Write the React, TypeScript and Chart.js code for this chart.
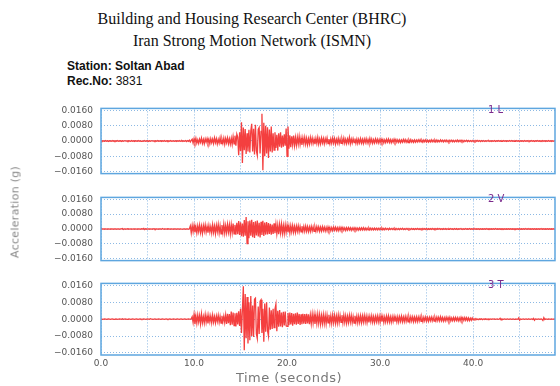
import React, { useEffect, useRef } from "react";
import { Chart, registerables } from "chart.js";

Chart.register(...registerables);

// ---- Data (acceleration in milli-g, sampled every 0.1 s from t = 0 s) ----
const START_TIME = 0;
const SAMPLE_INTERVAL = 0.1;
const TIME_MAX = 48.8;

const ACC_L = [
  0.1, -0.2, 0.1, 0.0, -0.1, 0.2, -0.1, 0.1, -0.2, 0.1, 0.0, -0.1, 0.2, -0.1, 0.1, -0.2, 0.1, -0.1, 0.2, -0.1,
  0.0, 0.1, -0.2, 0.1, -0.1, 0.2, 0.0, -0.1, 0.1, -0.2, 0.1, 0.0, -0.1, 0.2, -0.1, 0.1, -0.2, 0.1, 0.0, -0.1,
  0.2, -0.1, 0.1, -0.2, 0.0, 0.1, -0.1, 0.2, -0.1, 0.0, 0.1, -0.2, 0.1, -0.1, 0.2, 0.0, -0.1, 0.1, -0.2, 0.1,
  -0.1, 0.2, -0.1, 0.0, 0.1, -0.2, 0.1, -0.1, 0.2, -0.1, 0.0, 0.1, -0.2, 0.1, -0.1, 0.2, -0.1, 0.0, 0.1, -0.1,
  0.1, -0.2, 0.1, -0.1, 0.2, -0.1, 0.0, 0.2, -0.2, 0.1, -0.1, 0.2, -0.3, 0.2, -0.2, 0.4, -0.5, 0.3, 0.9, -1.1,
  1.2, -0.8, 1.4, -1.1, 0.6, -1.3, 1.0, -0.7, 1.5, -1.2, 0.8, -1.4, 1.1, -0.6, 1.3, -1.0, 0.9, -1.5, 1.2, -0.9,
  1.0, -1.3, 1.6, -0.9, 1.2, -1.6, 0.8, -1.1, 1.7, -1.4, 1.0, -1.2, 1.5, -1.7, 1.3, -0.9, 1.6, -1.4, 1.1, -1.6,
  1.4, -1.8, 2.2, -1.5, 2.8, -2.4, 3.6, 2.0, -7.4, 4.5, -5.2, 9.8, -11.5, 7.0, -4.8, 6.2, -6.8, 4.0, -5.5, 5.8,
  -6.0, 5.2, 9.0, -5.5, 6.4, -7.0, 8.5, -5.0, -7.5, 6.0, 7.0, -6.5, 5.0, 14.2, -15.2, 9.5, -8.0, 8.0, -6.5, 7.2,
  -8.8, 6.0, -5.5, 7.5, -6.0, 4.0, -4.8, 4.5, -3.6, 3.2, -5.0, 4.0, -3.0, 4.5, -3.5, 2.8, -3.0, 3.5, -2.5, 6.5,
  -8.0, 7.5, -4.0, 3.0, -3.2, 2.5, -2.0, 2.8, -2.4, 1.8, -2.2, 2.0, -1.6, 2.4, -1.8, 1.5, -2.0, 1.7, -1.4, 1.9,
  -1.6, 1.4, -1.9, 1.2, -1.5, 1.8, -1.1, 1.6, -1.3, 1.0, -1.7, 1.4, -1.2, 1.9, -1.5, 1.1, -1.4, 1.6, -1.0, 1.3,
  -1.5, 1.2, -0.9, 1.6, -1.3, 1.0, -1.4, 1.1, -1.2, 1.5, -1.0, 1.3, -1.6, 0.9, -1.1, 1.4, -1.3, 1.0, -1.2, 1.1,
  -1.0, 1.5, -1.2, 0.9, -1.3, 1.1, -0.9, 1.9, -1.4, 1.0, -1.1, 1.2, -0.8, 1.3, -1.2, 1.0, -1.3, 0.9, -1.0, 1.2,
  -1.1, 0.9, -1.3, 1.0, -0.8, 1.2, -1.0, 0.8, -1.1, 1.3, -0.9, 1.0, -1.2, 0.7, -1.0, 1.1, -0.8, 0.9, -1.0, 0.8,
  -0.9, 1.0, -0.7, 0.8, -1.0, 0.6, -0.8, 0.9, -0.6, 1.0, -0.8, 0.7, -0.9, 0.6, -0.7, 0.9, -0.6, 0.8, -0.7, 0.6,
  -0.7, 0.6, -0.8, 0.5, -0.6, 0.8, -0.5, 0.7, -0.6, 0.5, -0.8, 0.6, -0.5, 0.7, -0.6, 0.4, -0.7, 0.5, -0.6, 0.5,
  -0.5, 0.6, -0.4, 0.7, -0.5, 0.4, -0.6, 0.5, -0.4, 0.6, -0.5, 0.4, -0.6, 0.3, -0.5, 0.6, -0.4, 0.5, -0.4, 0.5,
  -0.4, 0.5, -0.5, 0.3, -0.4, 0.6, -0.3, 0.4, -0.5, 0.4, -0.3, 0.5, -0.4, 0.3, -0.5, 0.4, -0.3, 0.4, -0.4, 0.3,
  -0.4, 0.3, -0.3, 0.5, -0.4, 0.3, -0.3, 0.4, -0.3, 0.3, -0.4, 0.3, -0.2, 0.4, -0.3, 0.3, -0.3, 0.2, -0.3, 0.3,
  -0.3, 0.2, -0.3, 0.3, -0.2, 0.3, -0.2, 0.2, -0.3, 0.2, -0.2, 0.2, -0.2, 0.1, -0.2, 0.2, -0.1, 0.2, -0.2, 0.1,
  -0.2, 0.1, -0.1, 0.2, -0.2, 0.1, -0.1, 0.2, -0.1, 0.1, -0.2, 0.1, -0.1, 0.2, -0.1, 0.1, -0.2, 0.1, -0.1, 0.2,
  -0.1, 0.2, -0.1, 0.1, -0.2, 0.1, -0.1, 0.2, -0.1, 0.1, -0.2, 0.1, -0.1, 0.1, -0.2, 0.2, -0.1, 0.1, -0.1, 0.2,
  -0.2, 0.1, -0.1, 0.2, -0.1, 0.1, -0.2, 0.1, -0.1, 0.2, -0.1, 0.1, -0.2, 0.1, -0.1, 0.2, -0.1, 0.1, -0.2, 0.1,
  -0.1, 0.2, -0.1, 0.1, -0.2, 0.1, -0.1, 0.1, 0.0,
];

const ACC_V = [
  0.0, 0.1, -0.1, 0.0, 0.1, 0.0, -0.1, 0.1, 0.0, -0.1, 0.0, 0.1, 0.0, -0.1, 0.1, 0.0, 0.0, -0.1, 0.1, 0.0,
  -0.1, 0.0, 0.1, 0.3, -0.2, 0.0, 0.1, -0.1, 0.0, 0.1, 0.0, -0.1, 0.0, 0.1, -0.1, 0.0, 0.1, 0.0, -0.1, 0.0,
  0.1, 0.0, -0.1, 0.0, 0.1, 0.0, 0.3, -0.3, 0.1, 0.0, -0.1, 0.0, 0.1, 0.0, -0.1, 0.1, 0.0, 0.2, -0.2, 0.0,
  0.1, -0.1, 0.0, 0.1, 0.0, -0.1, 0.2, -0.1, 0.0, 0.1, -0.1, 0.0, 0.1, 0.0, -0.1, 0.1, 0.0, -0.1, 0.0, 0.1,
  0.0, -0.1, 0.1, 0.0, -0.1, 0.1, 0.0, 0.0, -0.1, 0.1, 0.0, -0.1, 0.1, 0.0, -0.1, 0.0, 1.6, -2.1, 1.9, -1.5,
  2.0, -1.8, 1.2, -2.2, 1.7, -1.4, 2.1, -1.9, 1.5, -2.3, 1.8, -1.2, 2.2, -1.7, 1.4, -2.0, 1.9, -1.6, 1.3, -2.1,
  2.3, -1.8, 1.6, -2.5, 2.0, -1.5, 2.4, -2.2, 1.7, -2.6, 2.1, -1.9, 2.6, -2.3, 1.8, -2.0, 2.5, -1.7, 2.2, -2.6,
  2.4, -2.0, 2.9, -2.6, 2.2, -3.0, 3.4, -2.8, 4.3, -3.2, 3.6, -3.9, 3.0, -4.2, 4.8, -3.6, 6.4, -7.8, 4.2, -5.0,
  4.5, -3.6, 5.0, -4.4, 3.8, -4.8, 4.2, -3.5, 4.6, -4.0, 3.4, -4.5, 3.9, -3.2, 4.4, -3.7, 3.5, -3.0, 3.8, -2.9,
  3.2, -2.6, 2.8, -3.0, 2.4, -2.7, 3.0, -2.2, 2.6, -2.5, 2.1, -2.8, 2.4, -2.0, 2.7, -2.3, 1.9, -2.4, 2.2, -1.8,
  2.0, -1.9, 1.6, -2.1, 1.8, -1.5, 1.9, -1.7, 1.4, -1.8, 1.6, -1.3, 1.7, -1.5, 1.3, -1.6, 1.5, -1.2, 1.4, -1.3,
  1.5, -1.2, 1.3, -1.4, 1.1, -1.3, 1.4, -1.0, 1.2, -1.3, 1.0, -1.2, 1.3, -0.9, 1.1, -1.2, 1.0, -1.1, 1.2, -0.9,
  1.0, -1.1, 0.9, -1.0, 1.1, -0.8, 0.9, -1.0, 0.8, -0.9, 1.0, -0.7, 0.9, -0.8, 0.7, -0.9, 0.8, -0.7, 0.9, -0.6,
  0.8, -0.7, 0.6, -0.8, 0.7, -0.6, 0.8, -0.5, 0.7, -0.7, 0.6, -0.6, 0.7, -0.5, 0.6, -0.7, 0.5, -0.6, 0.6, -0.5,
  0.6, -0.5, 0.7, -0.5, 0.5, -0.6, 0.4, -0.5, 0.6, -0.4, 0.5, -0.5, 0.4, -0.5, 0.5, -0.4, 0.4, -0.5, 0.4, -0.4,
  0.4, -0.3, 0.5, -0.4, 0.3, -0.4, 0.4, -0.3, 0.3, -0.4, 0.4, -0.3, 0.3, -0.3, 0.4, -0.3, 0.3, -0.4, 0.3, -0.3,
  0.3, -0.4, 0.3, -0.2, 0.4, -0.3, 0.2, -0.3, 0.3, -0.2, 0.3, -0.3, 0.2, -0.3, 0.3, -0.2, 0.2, -0.3, 0.2, -0.2,
  0.3, -0.2, 0.2, -0.3, 0.2, -0.2, 0.3, -0.2, 0.2, -0.2, 0.2, -0.3, 0.2, -0.2, 0.2, -0.2, 0.3, -0.2, 0.2, -0.2,
  0.2, -0.2, 0.3, -0.1, 0.2, -0.2, 0.1, -0.2, 0.2, -0.1, 0.2, -0.2, 0.1, -0.2, 0.2, -0.1, 0.2, -0.1, 0.1, -0.2,
  0.2, -0.1, 0.2, -0.2, 0.1, -0.1, 0.2, -0.1, 0.1, -0.2, 0.1, -0.1, 0.2, -0.1, 0.1, -0.1, 0.2, -0.1, 0.1, -0.1,
  0.1, -0.1, 0.2, -0.1, 0.1, -0.1, 0.1, -0.2, 0.1, -0.1, 0.1, -0.1, 0.1, -0.1, 0.2, -0.1, 0.1, -0.1, 0.1, -0.1,
  0.1, -0.1, 0.1, -0.1, 0.2, -0.1, 0.1, -0.1, 0.1, -0.1, 0.1, -0.1, 0.1, -0.2, 0.1, -0.1, 0.1, -0.1, 0.1, -0.1,
  0.1, -0.1, 0.1, -0.1, 0.1, -0.2, 0.1, -0.1, 0.1, -0.1, 0.1, -0.1, 0.1, -0.1, 0.1, -0.1, 0.2, -0.1, 0.1, -0.1,
  0.1, -0.1, 0.1, -0.1, 0.1, -0.1, 0.1, -0.1, 0.1, -0.1, 0.1, -0.1, 0.1, -0.1, 0.1, -0.1, 0.1, -0.1, 0.1, -0.1,
  0.1, -0.1, 0.1, -0.1, 0.1, -0.1, 0.1, -0.1, 0.0,
];

const ACC_T = [
  0.1, 0.0, -0.1, 0.0, 0.1, 0.0, -0.1, 0.0, 0.1, 0.0, -0.1, 0.0, 0.1, 0.0, -0.1, 0.0, 0.1, 0.0, -0.1, 0.0,
  0.1, 0.0, -0.1, 0.2, -0.1, 0.0, 0.1, 0.0, -0.1, 0.0, 0.1, 0.0, -0.1, 0.0, 0.1, 0.0, -0.1, 0.0, 0.1, 0.0,
  -0.1, 0.0, 0.1, 0.0, -0.1, 0.0, 0.1, 0.0, -0.1, 0.0, 0.1, 0.0, -0.1, 0.2, 0.0, 0.0, -0.1, 0.0, 0.1, 0.0,
  -0.1, 0.0, 0.1, 0.0, -0.1, 0.0, 0.1, 0.0, -0.1, 0.0, 0.1, 0.0, -0.1, 0.0, 0.1, 0.0, -0.1, 0.0, 0.1, 0.0,
  -0.1, 0.0, 0.1, 0.0, -0.1, 0.0, 0.1, 0.0, -0.1, 0.0, 0.1, 0.0, -0.1, 0.0, 0.1, 0.0, -0.1, 0.2, 1.2, -1.6,
  2.2, -2.4, 1.5, -1.9, 2.0, -1.3, 1.7, -2.2, 2.4, -1.6, 1.2, -1.8, 2.1, -1.4, 1.6, -2.0, 1.8, -1.2, 1.5, -1.7,
  1.9, -1.4, 1.2, -1.7, 1.5, -1.1, 1.8, -1.5, 1.3, -1.9, 1.6, -1.2, 1.4, -1.6, 2.0, -2.3, 2.6, -1.9, 2.4, -2.8,
  3.6, -2.6, 3.2, -3.0, 2.8, -3.4, 3.0, -2.5, 3.8, -3.2, 5.0, -6.5, 4.5, 15.6, -14.7, 12.0, -9.0, 10.5, -11.5, 8.0,
  -10.0, 11.0, -8.0, 6.5, -8.5, 9.5, 10.0, -7.0, -9.2, 6.0, -7.0, 8.5, 9.2, -6.5, 5.0, -10.7, 7.5, -6.0, 8.0, -5.5,
  -8.0, 5.5, -5.0, 4.2, -4.6, 5.0, -4.0, 4.8, 7.1, -5.7, 4.0, -3.6, 4.4, -3.5, 3.2, -3.8, 3.5, -3.0, 3.6, -3.2,
  -3.4, 3.0, -2.8, 3.2, -2.5, 2.9, -3.1, 2.6, -2.4, 2.8, -2.6, 3.1, -2.2, 2.5, -2.7, 2.3, -2.4, 2.6, -2.1, 2.4,
  -2.2, 2.5, -2.0, 2.3, -2.4, 1.9, -2.1, 2.4, -1.8, 2.2, -2.3, 1.8, -2.0, 2.3, -1.9, 2.1, -2.2, 1.7, -2.0, 2.1,
  -2.0, 1.8, -2.2, 1.9, -1.7, 2.1, -1.8, 1.6, -2.0, 1.9, -1.6, 1.8, -1.9, 1.5, -1.8, 2.0, -1.6, 1.7, -1.5, 1.9,
  -1.7, 1.9, -1.5, 1.6, -1.8, 1.4, -1.6, 1.8, -1.4, 1.7, -1.6, 1.3, -1.8, 1.6, -1.4, 1.5, -1.7, 1.4, -1.5, 1.6,
  -1.6, 1.5, -1.4, 1.7, -1.3, 1.5, -1.6, 1.3, -1.5, 1.4, -1.2, 1.6, -1.4, 1.2, -1.5, 1.3, -1.2, 1.5, -1.3, 1.4,
  -1.4, 1.6, -1.2, 1.3, -1.5, 1.1, -1.3, 1.4, -1.2, 1.5, -1.3, 1.1, -1.4, 1.2, -1.1, 1.3, -1.2, 1.0, -1.3, 1.2,
  -1.3, 1.2, -1.0, 1.4, -1.2, 1.0, -1.1, 1.3, -1.0, 1.2, -1.3, 1.0, -1.1, 1.2, -0.9, 1.1, -1.2, 1.0, -1.0, 1.1,
  -1.1, 1.0, -0.9, 1.2, -1.0, 0.8, -1.1, 0.9, -0.8, 1.0, -0.9, 0.8, -1.0, 0.9, -0.7, 1.0, -0.8, 0.9, -0.9, 0.8,
  -0.8, 1.0, -0.7, 0.9, -0.8, 1.1, -0.7, 0.8, -0.9, 0.7, -0.8, 0.9, -0.6, 0.8, -0.7, 0.9, -0.8, 0.6, -0.7, 0.8,
  -0.7, 0.8, -0.6, 0.7, -0.8, 0.6, -0.7, 0.9, -0.6, 0.7, -0.6, 0.8, -0.5, 0.7, -0.6, 0.6, -0.7, 0.5, -0.5, 0.6,
  -0.3, 0.2, -0.2, 0.3, -0.2, 0.1, -0.2, 0.2, -0.1, 0.2, -0.2, 0.1, -0.1, 0.2, -0.1, 0.1, -0.2, 0.1, -0.1, 0.1,
  -0.1, 0.1, 0.0, 0.1, -0.1, 0.0, 0.1, -0.1, 0.0, 0.4, -0.3, 0.1, -0.1, 0.0, 0.1, -0.1, 0.0, 0.1, -0.1, 0.0,
  0.1, -0.1, 0.0, 0.1, -0.1, 0.0, 0.1, -0.1, 0.0, 0.6, -0.5, 0.1, -0.1, 0.0, 0.1, -0.1, 0.0, 0.1, -0.1, 0.0,
  0.1, -0.1, 0.0, 0.1, -0.1, 0.4, -0.5, 0.1, 0.0, -0.1, 0.1, 0.0, -0.1, 0.1, 0.0, -0.6, 0.7, -0.2, 0.1, 0.0,
  -0.1, 0.1, 0.0, -0.1, 0.1, 0.0, -0.1, 0.1, 0.0,
];

const CHANNEL_LABELS = ["1 L", "2 V", "3 T"];

const Y_TICKS = [-16, -8, 0, 8, 16];
const Y_TICK_LABELS = ["\u22120.0160", "\u22120.0080", "0.0000", "0.0080", "0.0160"];
const Y_LIMIT = 17;

const X_GRID = [0, 5, 10, 15, 20, 25, 30, 35, 40, 45];
const X_TICK_LABELS = ["0.0", "", "10.0", "", "20.0", "", "30.0", "", "40.0", ""];

const TITLE_LINES = ["Building and Housing Research Center (BHRC)", "Iran Strong Motion Network (ISMN)"];
const STATION = "Soltan Abad";
const REC_NO = "3831";
const X_TITLE = "Time (seconds)";
const Y_TITLE = "Acceleration (g)";

// ---- Styling ----
const LINE_COLOR = "#f43f3f";
const FRAME_COLOR = "#5ea6df";
const GRID_COLOR = "#8cb9e4";
const TICK_COLOR = "#555555";
const TICK_FONT = { family: "'DejaVu Sans', sans-serif", size: 9 };

const framePlugin = {
  id: "frame",
  afterDraw(chart: any) {
    const { ctx, chartArea: a } = chart;
    ctx.save();
    ctx.strokeStyle = FRAME_COLOR;
    ctx.lineWidth = 1.5;
    ctx.strokeRect(a.left, a.top, a.width, a.height);
    ctx.restore();
  },
};

type PanelProps = {
  values: number[];
  top: number;
  areaHeight: number;
  padTop: number;
  xHeight: number;
  showX: boolean;
};

function Panel({ values, top, areaHeight, padTop, xHeight, showX }: PanelProps) {
  const ref = useRef<HTMLCanvasElement | null>(null);
  const height = padTop + areaHeight + xHeight;
  useEffect(() => {
    if (!ref.current) return;
    const points = values.map((v, i) => ({ x: START_TIME + i * SAMPLE_INTERVAL, y: v }));
    const chart = new Chart(ref.current, {
      type: "line",
      data: {
        datasets: [
          {
            data: points,
            borderColor: LINE_COLOR,
            borderWidth: 1.3,
            pointRadius: 0,
            tension: 0,
            fill: false,
          },
        ],
      },
      options: {
        animation: false,
        responsive: false,
        maintainAspectRatio: false,
        devicePixelRatio: 1,
        layout: { padding: { left: 0, right: 5, top: padTop, bottom: 0 } },
        plugins: { legend: { display: false }, tooltip: { enabled: false }, title: { display: false } },
        scales: {
          x: {
            type: "linear",
            min: 0,
            max: TIME_MAX,
            afterBuildTicks: (s: any) => {
              s.ticks = X_GRID.map((v) => ({ value: v }));
            },
            afterFit: (s: any) => {
              s.height = xHeight;
            },
            ticks: {
              display: showX,
              autoSkip: false,
              maxRotation: 0,
              padding: 3,
              color: TICK_COLOR,
              font: TICK_FONT,
              callback: (v: any) => {
                const i = X_GRID.indexOf(Number(v));
                return i >= 0 ? X_TICK_LABELS[i] : "";
              },
            },
            grid: { color: GRID_COLOR, drawTicks: false, lineWidth: 1 },
            border: { display: false, dash: [1, 2] },
          },
          y: {
            type: "linear",
            min: -Y_LIMIT,
            max: Y_LIMIT,
            afterBuildTicks: (s: any) => {
              s.ticks = Y_TICKS.map((v) => ({ value: v }));
            },
            afterFit: (s: any) => {
              s.width = 101;
            },
            ticks: {
              padding: 8,
              color: TICK_COLOR,
              font: TICK_FONT,
              callback: (v: any) => {
                const i = Y_TICKS.indexOf(Number(v));
                return i >= 0 ? Y_TICK_LABELS[i] : "";
              },
            },
            grid: { color: GRID_COLOR, drawTicks: false, lineWidth: 1 },
            border: { display: false, dash: [1, 2] },
          },
        },
      },
      plugins: [framePlugin],
    });
    return () => chart.destroy();
  }, [values, padTop, xHeight, showX]);
  return (
    <canvas
      ref={ref}
      width={560}
      height={height}
      style={{ position: "absolute", left: 0, top: top - padTop, width: 560, height }}
    />
  );
}

const channelLabelStyle = (top: number): React.CSSProperties => ({
  position: "absolute",
  left: 488,
  top,
  fontFamily: "'DejaVu Sans', sans-serif",
  fontSize: 10,
  lineHeight: "10px",
  color: "#7b2a8c",
  whiteSpace: "pre",
});

export default function App() {
  const panels = [
    { values: ACC_L, top: 101, areaHeight: 80, xHeight: 6, showX: false },
    { values: ACC_V, top: 190, areaHeight: 78, xHeight: 6, showX: false },
    { values: ACC_T, top: 276, areaHeight: 79, xHeight: 22, showX: true },
  ];
  return (
    <div
      style={{
        position: "fixed",
        left: 0,
        top: 0,
        width: 560,
        height: 386,
        background: "#ffffff",
        overflow: "hidden",
      }}
    >
      <div
        style={{
          position: "absolute",
          left: 0,
          top: 8,
          width: 504,
          textAlign: "center",
          fontFamily: "'Liberation Serif', 'Times New Roman', serif",
          fontSize: 16,
          lineHeight: "22px",
          color: "#111",
        }}
      >
        <div>{TITLE_LINES[0]}</div>
        <div>{TITLE_LINES[1]}</div>
      </div>
      <div
        style={{
          position: "absolute",
          left: 67,
          top: 59,
          fontFamily: "'Liberation Sans', Arial, sans-serif",
          fontSize: 12,
          lineHeight: "15px",
          fontWeight: "bold",
          color: "#111",
        }}
      >
        <div>Station: {STATION}</div>
        <div>
          Rec.No: <span style={{ fontWeight: "normal" }}>{REC_NO}</span>
        </div>
      </div>
      {panels.map((p, i) => (
        <Panel key={i} values={p.values} top={p.top} areaHeight={p.areaHeight} padTop={6} xHeight={p.xHeight} showX={p.showX} />
      ))}
      {panels.map((p, i) => (
        <div key={"l" + i} style={channelLabelStyle(p.top + 4)}>
          {CHANNEL_LABELS[i]}
        </div>
      ))}
      <div
        style={{
          position: "absolute",
          left: 289,
          top: 377,
          transform: "translate(-50%, -50%)",
          fontFamily: "'DejaVu Sans', sans-serif",
          fontSize: 13,
          letterSpacing: "0.5px",
          color: "#777",
          whiteSpace: "pre",
        }}
      >
        {X_TITLE}
      </div>
      <div
        style={{
          position: "absolute",
          left: 15,
          top: 212,
          transform: "translate(-50%, -50%) rotate(-90deg)",
          fontFamily: "'DejaVu Sans', sans-serif",
          fontSize: 11,
          fontWeight: "normal",
          letterSpacing: "0.3px",
          color: "#888",
          whiteSpace: "pre",
        }}
      >
        {Y_TITLE}
      </div>
    </div>
  );
}
